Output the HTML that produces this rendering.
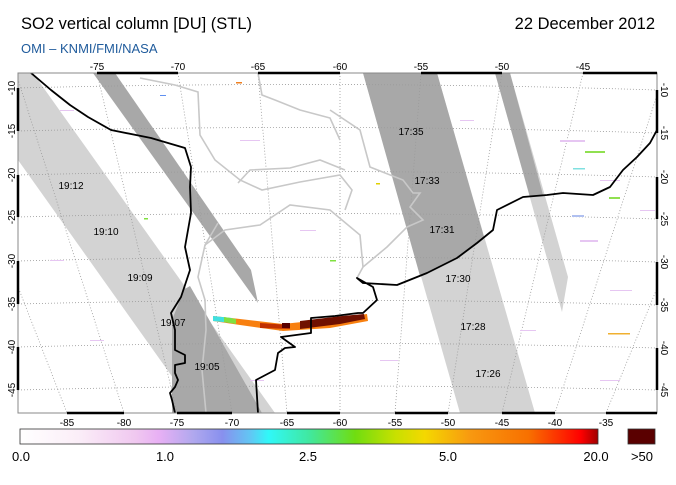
<!DOCTYPE html>
<html><head><meta charset="utf-8"><style>
body{margin:0;background:#fff;width:676px;height:480px;overflow:hidden;font-family:"Liberation Sans",Arial,sans-serif}
</style></head><body>
<svg width="676" height="480" viewBox="0 0 676 480" xmlns="http://www.w3.org/2000/svg" font-family="Liberation Sans, Arial, sans-serif">
<defs>
<linearGradient id="cb" x1="0" x2="1" y1="0" y2="0">
<stop offset="0" stop-color="#ffffff"/>
<stop offset="0.1" stop-color="#fbeef8"/>
<stop offset="0.2" stop-color="#f0c8f0"/>
<stop offset="0.24" stop-color="#e8b0f4"/>
<stop offset="0.3" stop-color="#b0a8ee"/>
<stop offset="0.35" stop-color="#8890ee"/>
<stop offset="0.4" stop-color="#60c8f4"/>
<stop offset="0.43" stop-color="#30f8f8"/>
<stop offset="0.5" stop-color="#40e8a0"/>
<stop offset="0.58" stop-color="#70dd10"/>
<stop offset="0.65" stop-color="#c8e000"/>
<stop offset="0.7" stop-color="#f4d800"/>
<stop offset="0.78" stop-color="#f89810"/>
<stop offset="0.88" stop-color="#f87000"/>
<stop offset="0.97" stop-color="#ff0000"/>
<stop offset="1" stop-color="#a00000"/>
</linearGradient>
<clipPath id="map"><rect x="18" y="73" width="639" height="340"/></clipPath>
</defs>
<text x="21" y="29" font-size="16.5">SO2 vertical column [DU] (STL)</text>
<text x="655" y="29" font-size="16.5" text-anchor="end">22 December 2012</text>
<text x="21" y="53" font-size="13" fill="#1f5b9c">OMI  –  KNMI/FMI/NASA</text>

<g clip-path="url(#map)">
<!-- swaths -->
<polygon points="18,73 33,73 275,413 198,413 18,160" fill="#d3d3d3"/>
<polygon points="93,73 115,73 251,270 258,303" fill="#a8a8a8"/>
<polygon points="183,290 190,286 262,413 172,413 172,320 178,305" fill="#a8a8a8"/>
<polygon points="363,73 437,73 535,413 460,413" fill="#d3d3d3"/>
<polygon points="363,73 437,73 484,237 477,243 457,258 427,273 420,276" fill="#a8a8a8"/>
<polygon points="495,73 510,73 568,277 562,312" fill="#d3d3d3"/>
<polygon points="495,73 510,73 543,195 530,197" fill="#a8a8a8"/>
<!-- grid meridians -->
<g stroke="#9a9a9a" stroke-width="0.8" stroke-dasharray="1,2" fill="none">
<line x1="-65" y1="73" x2="67" y2="413"/>
<line x1="16" y1="73" x2="124" y2="413"/>
<line x1="97" y1="73" x2="177" y2="413"/>
<line x1="178" y1="73" x2="232" y2="413"/>
<line x1="258" y1="73" x2="287" y2="413"/>
<line x1="340" y1="73" x2="340" y2="413"/>
<line x1="421" y1="73" x2="395" y2="413"/>
<line x1="502" y1="73" x2="448" y2="413"/>
<line x1="583" y1="73" x2="502" y2="413"/>
<line x1="664" y1="73" x2="555" y2="413"/>
<line x1="745" y1="73" x2="606" y2="413"/>
<path d="M18,88 Q338,80 657,90"/>
<path d="M18,131 Q338,123 657,133"/>
<path d="M18,175 Q338,167 657,177"/>
<path d="M18,217 Q338,209 657,219"/>
<path d="M18,261 Q338,253 657,262"/>
<path d="M18,304 Q338,296 657,305"/>
<path d="M18,347 Q338,339 657,348"/>
<path d="M18,390 Q338,382 657,390"/>
</g>
<!-- speckles -->
<g fill="#e6c6f2">
<rect x="60" y="110" width="14" height="1"/><rect x="240" y="140" width="20" height="1"/><rect x="300" y="230" width="16" height="1"/>
<rect x="560" y="140" width="25" height="2"/><rect x="600" y="180" width="20" height="1"/><rect x="580" y="240" width="18" height="2"/>
<rect x="610" y="290" width="22" height="1"/><rect x="520" y="330" width="16" height="1"/><rect x="90" y="340" width="14" height="1"/>
<rect x="460" y="120" width="14" height="1"/><rect x="380" y="360" width="18" height="1"/><rect x="600" y="380" width="20" height="1"/>
<rect x="250" y="380" width="14" height="1"/><rect x="50" y="260" width="14" height="1"/><rect x="640" y="210" width="15" height="1"/>
</g>
<g>
<rect x="236" y="82" width="6" height="1.5" fill="#f08020"/><rect x="160" y="95" width="6" height="1" fill="#6090f0"/>
<rect x="144" y="218" width="4" height="1.5" fill="#80e040"/><rect x="330" y="260" width="6" height="1.5" fill="#80e040"/>
<rect x="585" y="151" width="20" height="2" fill="#90e050"/><rect x="609" y="197" width="11" height="2" fill="#90e050"/>
<rect x="608" y="333" width="22" height="1.5" fill="#f0b030"/><rect x="573" y="168" width="12" height="1.5" fill="#80e0e0"/>
<rect x="376" y="183" width="4" height="1.5" fill="#e0d000"/><rect x="572" y="215" width="12" height="2" fill="#b0c0f0"/>
</g>
<!-- borders -->
<g stroke="#c8c8c8" stroke-width="1.6" fill="none">
<polyline points="140,78 175,85 198,92 200,135 215,160 240,180 262,190 300,182 340,175 352,190 345,210"/>
<polyline points="258,73 262,95 275,100 300,110 330,118 340,140"/>
<polyline points="218,223 205,245 198,277 205,300 206,330 202,370 206,413"/>
<polyline points="330,110 360,130 370,167 403,180 413,193 420,193 410,207 423,220 407,227 387,247 363,267 357,278"/>
<polyline points="238,183 250,170 290,168 320,160 345,170"/>
<polyline points="205,245 225,230 260,225 290,205 330,210 360,235 363,267"/>
</g>
<!-- plume -->
<polygon points="213,316 240,319 283,324 330,319 367,314 368,321 330,328 283,331 240,325 213,321" fill="#f88010"/>
<polygon points="213,316 232,318 232,323 213,321" fill="#40e0e0"/>
<polygon points="224,317 236,319 236,324 224,322" fill="#80e040"/>
<polygon points="260,323 290,325 290,329 260,328" fill="#c03000"/>
<polygon points="300,321 342,316 364,314 365,319 340,324 300,329" fill="#701000"/>
<rect x="282" y="323" width="8" height="5" fill="#5a0000"/>
<!-- coastlines -->
<g stroke="#000" stroke-width="1.8" fill="none" stroke-linejoin="round">
<polyline points="31,73 51,90 70,105 88,117 111,130 151,138 185,148 191,167 190,187 191,213 185,247 190,270 181,297 171,313 175,330 175,350 185,355 185,363 175,365 175,373 178,380 175,387 170,393 172,400 175,413"/>
<polyline points="258,413 256,380 275,370 278,353 285,348 295,347 281,337 311,333 311,318 335,316 358,313 363,313 377,300 373,287 357,278 363,283 397,285 427,273 457,258 477,243 493,230 497,210 523,197 547,195 563,193 593,195 610,187 623,170 637,157 650,143 657,130"/>
</g>
</g>
<!-- swath labels -->
<g font-size="10" text-anchor="middle" fill="#000">
<text x="71" y="189">19:12</text><text x="106" y="235">19:10</text><text x="140" y="281">19:09</text>
<text x="173" y="326">19:07</text><text x="207" y="370">19:05</text>
<text x="411" y="135">17:35</text><text x="427" y="184">17:33</text><text x="442" y="233">17:31</text>
<text x="458" y="282">17:30</text><text x="473" y="330">17:28</text><text x="488" y="377">17:26</text>
</g>
<!-- frame -->
<rect x="18" y="73" width="639" height="340" fill="none" stroke="#888" stroke-width="1"/>
<g stroke="#000" stroke-width="2.5">
<line x1="67" y1="413" x2="124" y2="413"/><line x1="177" y1="413" x2="232" y2="413"/><line x1="287" y1="413" x2="340" y2="413"/>
<line x1="395" y1="413" x2="448" y2="413"/><line x1="502" y1="413" x2="555" y2="413"/><line x1="606" y1="413" x2="657" y2="413"/>
<line x1="97" y1="73" x2="178" y2="73"/><line x1="258" y1="73" x2="340" y2="73"/><line x1="421" y1="73" x2="502" y2="73"/><line x1="583" y1="73" x2="657" y2="73"/>
<line x1="18" y1="88" x2="18" y2="131"/><line x1="18" y1="175" x2="18" y2="217"/><line x1="18" y1="261" x2="18" y2="304"/><line x1="18" y1="347" x2="18" y2="390"/>
<line x1="657" y1="90" x2="657" y2="133"/><line x1="657" y1="177" x2="657" y2="219"/><line x1="657" y1="262" x2="657" y2="305"/><line x1="657" y1="348" x2="657" y2="390"/>
</g>
<!-- tick labels -->
<g font-size="10" text-anchor="middle">
<text x="97" y="70">-75</text><text x="178" y="70">-70</text><text x="258" y="70">-65</text><text x="340" y="70">-60</text>
<text x="421" y="70">-55</text><text x="502" y="70">-50</text><text x="583" y="70">-45</text>
<text x="67" y="426">-85</text><text x="124" y="426">-80</text><text x="177" y="426">-75</text><text x="232" y="426">-70</text>
<text x="287" y="426">-65</text><text x="340" y="426">-60</text><text x="395" y="426">-55</text><text x="448" y="426">-50</text>
<text x="502" y="426">-45</text><text x="555" y="426">-40</text><text x="606" y="426">-35</text>
<text transform="translate(15,88) rotate(-90)">-10</text><text transform="translate(15,131) rotate(-90)">-15</text>
<text transform="translate(15,175) rotate(-90)">-20</text><text transform="translate(15,217) rotate(-90)">-25</text>
<text transform="translate(15,261) rotate(-90)">-30</text><text transform="translate(15,304) rotate(-90)">-35</text>
<text transform="translate(15,347) rotate(-90)">-40</text><text transform="translate(15,390) rotate(-90)">-45</text>
<text transform="translate(661,90) rotate(90)">-10</text><text transform="translate(661,133) rotate(90)">-15</text>
<text transform="translate(661,177) rotate(90)">-20</text><text transform="translate(661,219) rotate(90)">-25</text>
<text transform="translate(661,262) rotate(90)">-30</text><text transform="translate(661,305) rotate(90)">-35</text>
<text transform="translate(661,348) rotate(90)">-40</text><text transform="translate(661,390) rotate(90)">-45</text>
</g>
<!-- colorbar -->
<rect x="20" y="429" width="578" height="15" fill="url(#cb)" stroke="#333" stroke-width="0.8"/>
<rect x="628" y="429" width="27" height="15" fill="#5a0000" stroke="#333" stroke-width="0.8"/>
<g font-size="13" text-anchor="middle">
<text x="21" y="461">0.0</text><text x="165" y="461">1.0</text><text x="308" y="461">2.5</text>
<text x="448" y="461">5.0</text><text x="596" y="461">20.0</text><text x="642" y="461">&gt;50</text>
</g>
</svg>
</body></html>
